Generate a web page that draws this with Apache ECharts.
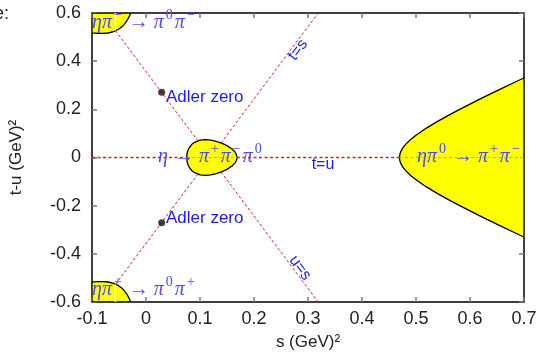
<!DOCTYPE html>
<html>
<head>
<meta charset="utf-8">
<title>eta -> 3 pi, Mandelstam plane</title>
<script src="https://cdn.jsdelivr.net/npm/echarts@6/dist/echarts.min.js"></script>
<style>
  html, body { margin: 0; padding: 0; background: #fff; }
  #main { width: 541px; height: 357px; }
</style>
</head>
<body>
<div id="main"></div>
<script>
// axis ticks
var sTicks = [-0.1, 0, 0.1, 0.2, 0.3, 0.4, 0.5, 0.6, 0.7];
var tuTicks = [-0.6, -0.4, -0.2, 0, 0.2, 0.4, 0.6];

// upper half of each boundary [s, t-u], lower half is its mirror image
var decayEdge = [
  [0.0754, 0], [0.0760, 0.0154], [0.0765, 0.0207], [0.078, 0.0313], [0.080, 0.0405],
  [0.085, 0.0548], [0.090, 0.0632], [0.100, 0.0718], [0.110, 0.0741], [0.120, 0.0723],
  [0.130, 0.0674], [0.140, 0.0600], [0.150, 0.0494], [0.160, 0.0340], [0.165, 0.0221],
  [0.167, 0.0147], [0.168, 0.0087], [0.1686, 0]
];
var scatterEdge = [
  [0.4694, 0], [0.4700, 0.0119], [0.4715, 0.0229], [0.475, 0.0378], [0.480, 0.0526],
  [0.490, 0.0748], [0.500, 0.0927], [0.520, 0.1232], [0.540, 0.1502], [0.560, 0.1751],
  [0.580, 0.1989], [0.600, 0.2219], [0.620, 0.2443], [0.640, 0.2663], [0.660, 0.2880],
  [0.680, 0.3094], [0.700, 0.3306]
];
var cornerEdge = [
  [-0.1, 0.5179], [-0.09, 0.5156], [-0.08, 0.5151], [-0.07, 0.5170], [-0.06, 0.5226],
  [-0.05, 0.5336], [-0.045, 0.5422], [-0.04, 0.5537], [-0.035, 0.5691], [-0.03, 0.5903],
  [-0.0282, 0.6]
];

// lines t=u, t=s, u=s (broken where they meet the yellow regions)
var tuOutside = [[[-0.1, 0], [0.0754, 0]], [[0.1686, 0], [0.4694, 0]]];
var tuInside = [[[0.0754, 0], [0.1686, 0]], [[0.4694, 0], [0.7, 0]]];
var tsLine = [[[-0.0567, -0.527], [0.0957, -0.070]], [[0.139, 0.060], [0.3189, 0.6]]];
var usLine = [[[-0.0567, 0.527], [0.0957, 0.070]], [[0.139, -0.060], [0.3189, -0.6]]];
var cornerGap = [[[-0.0567, 0.527], [-0.0567, 0.6]], [[-0.0567, -0.527], [-0.0567, -0.6]]];

var adlerZeros = [[0.029, 0.271], [0.029, -0.271]];

function mirror(pts) {
  return pts.slice().reverse().map(function (p) { return [p[0], -p[1]]; });
}
var regions = [
  decayEdge.concat(mirror(decayEdge)),
  scatterEdge.concat(mirror(scatterEdge)),
  [[-0.1, 0.6]].concat(cornerEdge),
  [[-0.1, -0.6]].concat(cornerEdge.map(function (p) { return [p[0], -p[1]]; }))
];

var red = '#c0302a';
var blue = '#1a1aff';
var mathBlue = '#4a4aff';
var sans = 'Liberation Sans, Arial, sans-serif';
var serif = 'Liberation Serif, Times New Roman, serif';

function segSeries(segs, color, z, type, width) {
  return segs.map(function (seg) {
    return {
      type: 'line', data: seg, symbol: 'none', silent: true, z: z,
      itemStyle: { color: color },
      lineStyle: { color: color, width: width || 1, type: type || [3, 2] }
    };
  });
}

function mathRich() {
  return {
    i: { fontFamily: serif, fontStyle: 'italic', fontSize: 20, fill: mathBlue, padding: [0, 1, 0, 0] },
    a: { fontFamily: serif, fontSize: 20, fill: mathBlue, padding: [0, 5, 0, 5] },
    s: { fontFamily: serif, fontSize: 14, fill: mathBlue, padding: [0, 2, 16, 1] }
  };
}

var chart = echarts.init(document.getElementById('main'));

var option = {
  animation: false,
  backgroundColor: '#fff',
  grid: { left: 92, right: 17, top: 13, bottom: 55 },
  xAxis: [{
    type: 'value', min: sTicks[0], max: sTicks[sTicks.length - 1], interval: 0.1,
    name: 's (GeV)\u00b2', nameLocation: 'middle', nameGap: 32,
    nameTextStyle: { fontFamily: sans, fontSize: 17, color: '#222' },
    axisLine: { onZero: false, lineStyle: { color: '#000', width: 1.5 } },
    axisTick: { inside: true, length: 5, lineStyle: { color: '#777', width: 1.5 } },
    axisLabel: { margin: 8, fontFamily: sans, fontSize: 18, color: '#222',
      formatter: function (v) { return String(+v.toFixed(1)); } },
    splitLine: { show: false }
  }, {
    type: 'value', position: 'top', min: sTicks[0], max: sTicks[sTicks.length - 1], interval: 0.1,
    axisLine: { onZero: false, lineStyle: { color: '#000', width: 1.5 } },
    axisTick: { inside: true, length: 5, lineStyle: { color: '#777', width: 1.5 } },
    axisLabel: { show: false }, splitLine: { show: false }
  }],
  yAxis: [{
    type: 'value', min: tuTicks[0], max: tuTicks[tuTicks.length - 1], interval: 0.2,
    name: 't-u (GeV)\u00b2', nameLocation: 'middle', nameGap: 67, nameRotate: 90,
    nameTextStyle: { fontFamily: sans, fontSize: 17, color: '#222' },
    axisLine: { onZero: false, lineStyle: { color: '#000', width: 1.5 } },
    axisTick: { inside: true, length: 5, lineStyle: { color: '#777', width: 1.5 } },
    axisLabel: { margin: 11, fontFamily: sans, fontSize: 18, color: '#222',
      formatter: function (v) { return String(+v.toFixed(1)); } },
    splitLine: { show: false }
  }, {
    type: 'value', position: 'right', min: tuTicks[0], max: tuTicks[tuTicks.length - 1], interval: 0.2,
    axisLine: { onZero: false, lineStyle: { color: '#000', width: 1.5 } },
    axisTick: { inside: true, length: 5, lineStyle: { color: '#777', width: 1.5 } },
    axisLabel: { show: false }, splitLine: { show: false }
  }],
  series: []
    .concat(segSeries(tuOutside, '#c42a2a', 3, [3, 2.5], 1.4))
    .concat([{
      type: 'custom', silent: true, z: 2, clip: true,
      data: regions.map(function (r) { return r[0]; }),
      renderItem: function (params, api) {
        var pts = regions[params.dataIndex].map(function (p) { return api.coord(p); });
        return {
          type: 'polygon', shape: { points: pts },
          style: { fill: '#ffff00', stroke: '#000', lineWidth: 1.3 }
        };
      }
    }])
    .concat(segSeries(tuInside, '#e2a83a', 3, [3, 2.5], 1.2))
    .concat(segSeries(tsLine, red, 3))
    .concat(segSeries(usLine, red, 3))
    .concat(segSeries(cornerGap, '#fff', 3, 'solid', 1.5))
    .concat([{
      type: 'scatter', data: adlerZeros, symbolSize: 7, z: 4, silent: true,
      itemStyle: { color: '#111' }
    }]),
  graphic: [
    { type: 'text', x: 9, y: 14, z: 10, style: { text: 'e:', align: 'right', verticalAlign: 'middle',
      font: '18px ' + sans, fill: '#222' } },
    { type: 'text', x: 92, y: 23, z: 10, style: { text: '{i|\u03b7\u03c0}{s|\u2212}{a|\u2192}{i|\u03c0}{s|0}{i|\u03c0}{s|\u2212}',
      rich: mathRich(), verticalAlign: 'middle' } },
    { type: 'text', x: 92, y: 290, z: 10, style: { text: '{i|\u03b7\u03c0}{s|+}{a|\u2192}{i|\u03c0}{s|0}{i|\u03c0}{s|+}',
      rich: mathRich(), verticalAlign: 'middle' } },
    { type: 'text', x: 158, y: 157, z: 10, style: { text: '{i|\u03b7}{a|\u2192}{i|\u03c0}{s|+}{i|\u03c0}{s|\u2212}{i|\u03c0}{s|0}',
      rich: mathRich(), verticalAlign: 'middle' } },
    { type: 'text', x: 417, y: 157, z: 10, style: { text: '{i|\u03b7\u03c0}{s|0}{a|\u2192}{i|\u03c0}{s|+}{i|\u03c0}{s|\u2212}',
      rich: mathRich(), verticalAlign: 'middle' } },
    { type: 'text', x: 166, y: 97, z: 10, style: { text: 'Adler zero', verticalAlign: 'middle',
      font: '17px ' + sans, fill: blue } },
    { type: 'text', x: 166, y: 218, z: 10, style: { text: 'Adler zero', verticalAlign: 'middle',
      font: '17px ' + sans, fill: blue } },
    { type: 'text', x: 323, y: 165, z: 10, style: { text: 't=u', align: 'center', verticalAlign: 'middle',
      font: '16px ' + sans, fill: blue } },
    { type: 'text', x: 298, y: 50, z: 10, rotation: 53.3 * Math.PI / 180,
      style: { text: 't=s', align: 'center', verticalAlign: 'middle', font: '16px ' + sans, fill: blue } },
    { type: 'text', x: 300, y: 268, z: 10, rotation: -53.3 * Math.PI / 180,
      style: { text: 'u=s', align: 'center', verticalAlign: 'middle', font: '16px ' + sans, fill: blue } }
  ]
};

chart.setOption(option);
</script>
</body>
</html>
